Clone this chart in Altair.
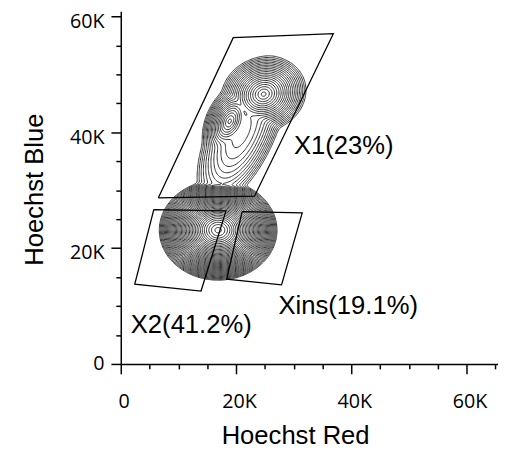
import numpy as np
import pandas as pd
import altair as alt
from collections import defaultdict

# ---------------- gates (polygon vertices, data units) ----------------
gate_x1_x = [6530, 19520, 36890, 23210]
gate_x1_y = [28700, 56360, 57040, 28970]
gate_x2_x = [5730, 18260, 13930, 2430]
gate_x2_y = [26660, 26420, 12590, 13780]
gate_xins_x = [21060, 31490, 27900, 18380]
gate_xins_y = [26320, 26080, 13660, 14630]

# ---------------- gate labels ----------------
label_text = ["X1(23%)", "Xins(19.1%)", "X2(41.2%)"]
label_x = [30050, 27380, 1740]
label_y = [36190, 8680, 5270]

# ---------------- populations ----------------
# centre, outer radii (major/minor), tilt (deg), number of contour rings, profile
pop_cx = [16900, 24800, 18900, 21000]
pop_cy = [23100, 46600, 41900, 40000]
pop_rx = [10300, 7600, 7000, 14000]
pop_ry = [8700, 6500, 4200, 5800]
pop_angle = [0, 20, 65, 65]
pop_rings = [40, 21, 18, 12]
pop_profile = [1.5, 1.3, 1.3, 2.0]

# ---------------- axes ----------------
tick_values_x = list(range(0, 65001, 5000))
tick_values_y = list(range(0, 60001, 5000))

# ---------- contour computation (marching squares on population model) ----------
gx = np.arange(0, 42001, 200.0)
gy = np.arange(6000, 62001, 200.0)
GX, GY = np.meshgrid(gx, gy)
acc = np.zeros_like(GX)
T = 1.0
for cx, cy, rx, ry, ang, a, p in zip(pop_cx, pop_cy, pop_rx, pop_ry, pop_angle, pop_rings, pop_profile):
    t = np.deg2rad(ang)
    u = (GX - cx) * np.cos(t) + (GY - cy) * np.sin(t)
    v = -(GX - cx) * np.sin(t) + (GY - cy) * np.cos(t)
    d = np.sqrt((u / rx) ** 2 + (v / ry) ** 2)
    acc += np.exp(a * (1 - d ** p) / T)
V = T * np.log(acc)


def edge_point(e, level):
    kind, i, j = e
    if kind == 'h':
        v0, v1 = V[j, i], V[j, i + 1]
        t = (level - v0) / (v1 - v0)
        return gx[i] + t * (gx[i + 1] - gx[i]), gy[j]
    v0, v1 = V[j, i], V[j + 1, i]
    t = (level - v0) / (v1 - v0)
    return gx[i], gy[j] + t * (gy[j + 1] - gy[j])


def contour_paths(level):
    b = V > level
    bl = b[:-1, :-1]; br = b[:-1, 1:]; tr = b[1:, 1:]; tl = b[1:, :-1]
    case = bl * 1 + br * 2 + tr * 4 + tl * 8
    js, iss = np.nonzero((case != 0) & (case != 15))
    segs = []
    for j, i in zip(js, iss):
        c = case[j, i]
        B = ('h', i, j); Tp = ('h', i, j + 1); L = ('v', i, j); R = ('v', i + 1, j)
        if c in (5, 10):
            center = (V[j, i] + V[j, i + 1] + V[j + 1, i] + V[j + 1, i + 1]) / 4 > level
            if c == 5:
                segs += [(B, R), (L, Tp)] if center else [(L, B), (R, Tp)]
            else:
                segs += [(L, B), (R, Tp)] if center else [(B, R), (L, Tp)]
        else:
            table = {1: (L, B), 2: (B, R), 3: (L, R), 4: (R, Tp), 6: (B, Tp), 7: (L, Tp),
                     8: (L, Tp), 9: (B, Tp), 11: (R, Tp), 12: (L, R), 13: (B, R), 14: (L, B)}
            segs.append(table[c])
    adj = defaultdict(list)
    for k, (a, bb) in enumerate(segs):
        adj[a].append(k); adj[bb].append(k)
    used = [False] * len(segs)
    paths = []
    for k in range(len(segs)):
        if used[k]:
            continue
        used[k] = True
        a, bb = segs[k]

        def walk(cur):
            out = []
            while True:
                nxt = [s for s in adj[cur] if not used[s]]
                if not nxt:
                    break
                s = nxt[0]; used[s] = True
                e0, e1 = segs[s]
                cur = e1 if e0 == cur else e0
                out.append(cur)
            return out
        fwd = walk(bb)
        back = walk(a)
        path = back[::-1] + [a, bb] + fwd
        paths.append([edge_point(e, level) for e in path])
    return paths


rows = []
pid = 0
vmax = V.max()
level = 0.5
while level < vmax:
    for path in contour_paths(level):
        for o, (px, py) in enumerate(path):
            rows.append(("contour", pid, o, px, py, ""))
        pid += 1
    level += 1.0

for name, xs, ys in [("X1", gate_x1_x, gate_x1_y), ("X2", gate_x2_x, gate_x2_y),
                     ("Xins", gate_xins_x, gate_xins_y)]:
    for o, (px, py) in enumerate(list(zip(xs, ys)) + [(xs[0], ys[0])]):
        rows.append(("gate", name, o, px, py, ""))
for t, px, py in zip(label_text, label_x, label_y):
    rows.append(("label", t, 0, px, py, t))

df = pd.DataFrame(rows, columns=["kind", "pid", "ord", "x", "y", "text"])
df["pid"] = df["pid"].astype(str)

major = "datum.value % 20000 === 0"
label_expr = "datum.value % 20000 === 0 ? (datum.value === 0 ? '0' : format(datum.value / 1000, 'd') + 'K') : ''"
xaxis = alt.Axis(
    values=tick_values_x, grid=False, title="Hoechst Red", labelExpr=label_expr,
    tickSize={"condition": {"test": major, "value": 10}, "value": 5},
    domainColor="black", tickColor="black", domainWidth=1.5, tickWidth=1.5,
    labelFont="Open Sans", labelFontSize=20, labelColor="black",
    labelBaseline="alphabetic", labelPadding=34.5, labelOffset=3,
    labelFlush=False, labelOverlap=False,
    titleFont="Liberation Sans", titleFontSize=26, titleFontWeight="normal", titleColor="black",
    titleX=177, titleY=80.5, titleBaseline="alphabetic", titleAlign="center",
)
yaxis = alt.Axis(
    values=tick_values_y, grid=False, title="Hoechst Blue", labelExpr=label_expr,
    tickSize={"condition": {"test": major, "value": 10}, "value": 5},
    domainColor="black", tickColor="black", domainWidth=1.5, tickWidth=1.5,
    labelFont="Open Sans", labelFontSize=20, labelColor="black",
    labelPadding=7, labelOffset={"condition": {"test": "datum.value === 0", "value": 0}, "value": 5},
    labelFlush=False, labelOverlap=False,
    titleFont="Liberation Sans", titleFontSize=26, titleFontWeight="normal", titleColor="black",
    titleX=-87, titleY=180.5, titleBaseline="middle", titleAlign="center",
)

base = alt.Chart(df).encode(
    x=alt.X("x:Q", scale=alt.Scale(domain=[0, 65470], nice=False, zero=False), axis=xaxis),
    y=alt.Y("y:Q", scale=alt.Scale(domain=[0, 60900], nice=False, zero=False), axis=yaxis),
)

contours = base.transform_filter(alt.datum.kind == "contour").mark_line(
    stroke="#2e2e2e", strokeWidth=1.0).encode(detail="pid:N", order="ord:Q")
gates = base.transform_filter(alt.datum.kind == "gate").mark_line(
    stroke="black", strokeWidth=1.3).encode(detail="pid:N", order="ord:Q")
labels = base.transform_filter(alt.datum.kind == "label").mark_text(
    font="Liberation Sans", fontSize=26, align="left", baseline="alphabetic", color="black"
).encode(text="text:N")

chart = alt.layer(contours, gates, labels).properties(
    width=383, height=358, autosize="none",
    padding={"left": 114.5, "top": 0, "right": 0, "bottom": 86},
).configure_view(strokeWidth=0)

chart.save("out.html", embed_options={"renderer": "svg", "actions": False})
